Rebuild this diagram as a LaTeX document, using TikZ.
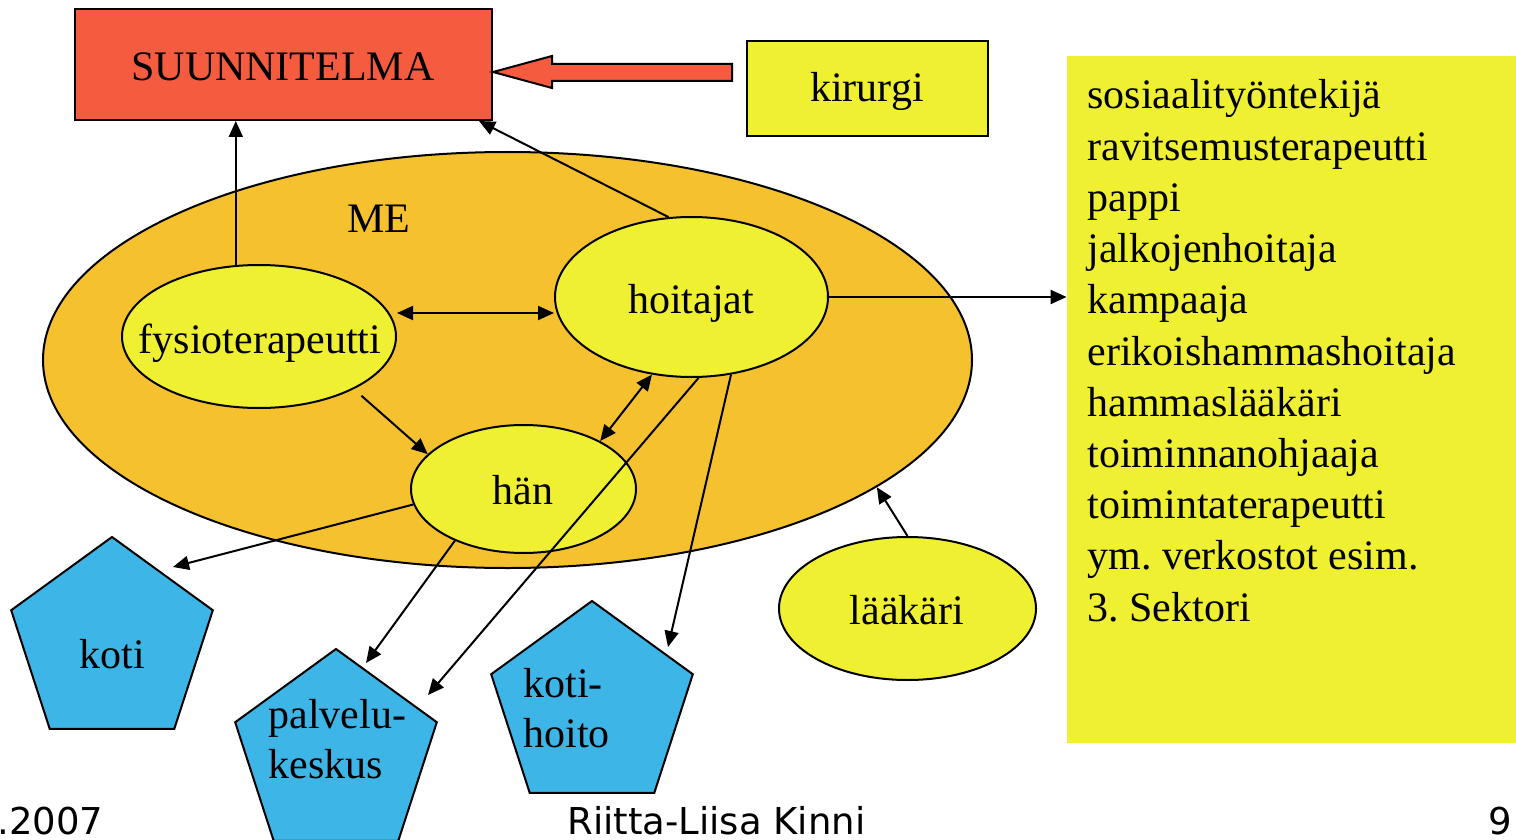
\documentclass[tikz,border=0pt]{standalone}
\usepackage{fontspec}
\setmainfont{Liberation Serif}
\newfontfamily\footfont{DejaVu Sans}
\usetikzlibrary{shapes.geometric,arrows.meta,calc}
\definecolor{cred}{RGB}{244,91,63}
\definecolor{corange}{RGB}{246,193,47}
\definecolor{cyellow}{RGB}{240,240,51}
\definecolor{cblue}{RGB}{61,181,230}
\frenchspacing
\begin{document}
\begin{tikzpicture}[x=0.5pt,y=-0.5pt,
  font=\fontsize{21}{25.65}\selectfont,
  lw/.style={line width=1pt},
  oval/.style={ellipse, draw, line width=1pt, fill=cyellow, inner sep=0pt},
  penta/.style={regular polygon, regular polygon sides=5, draw, line width=1pt, fill=cblue, minimum size=106pt, inner sep=0pt},
  con/.style={line width=1pt, -{Triangle[length=8pt,width=7pt]}},
  dcon/.style={line width=1pt, {Triangle[length=8pt,width=7pt]}-{Triangle[length=8pt,width=7pt]}},
  basetxt/.style={anchor=base, inner sep=0pt},
  foot/.style={font=\footfont\fontsize{18.5}{22}\selectfont, anchor=base west, inner sep=0pt},
]
\useasboundingbox (0,0) rectangle (1516,840);

% big ME ellipse
\node[oval, fill=corange, minimum width=464.5pt, minimum height=208pt] (me) at (507.5,360) {};
\node[basetxt] (melabel) at (379,232) {ME};

% plan and surgeon
\node[draw, lw, fill=cred, minimum width=208.5pt, minimum height=55.5pt, inner sep=0pt] (sunn) at (283.5,64.5) {};
\node[basetxt] (sunnt) at (283,81) {SUUNNITELMA};
\node[draw, lw, fill=cyellow, minimum width=120.5pt, minimum height=47.5pt, inner sep=0pt] (kir) at (867.5,88.5) {};
\node[basetxt] (kirt) at (867,102) {kirurgi};

% inner ellipses
\node[oval, minimum width=137pt, minimum height=71.5pt] (fys) at (259,336.5) {};
\node[oval, minimum width=136.5pt, minimum height=80pt] (hoi) at (691.5,297) {};
\node[oval, minimum width=112.5pt, minimum height=64pt] (han) at (523.5,489) {};
\node[oval, minimum width=128.5pt, minimum height=71.5pt] (laa) at (907.5,608.5) {};
\node[basetxt] (fyst) at (260,353) {fysioterapeutti};
\node[basetxt] (hoit) at (691,313) {hoitajat};
\node[basetxt] (hant) at (523,504) {hän};
\node[basetxt] (laat) at (907,624) {lääkäri};

% pentagons
\node[penta] (koti) at (112,643) {};
\node[penta] (palv) at (336,755) {};
\node[penta] (koho) at (592,707) {};
\node[basetxt] (kotit) at (112,668) {koti};
\node[anchor=base west, inner sep=0pt] (palv1) at (268,728) {palvelu-};
\node[anchor=base west, inner sep=0pt] (palv2) at (268,778) {keskus};
\node[anchor=base west, inner sep=0pt] (koho1) at (523,697) {koti-};
\node[anchor=base west, inner sep=0pt] (koho2) at (523,747) {hoito};

% list box
\node[fill=cyellow, minimum width=224.5pt, minimum height=343.5pt, inner sep=0pt] (box) at (1291.5,399.5) {};
\foreach \txt [count=\i] in {sosiaalityöntekijä,ravitsemusterapeutti,pappi,jalkojenhoitaja,kampaaja,erikoishammashoitaja,hammaslääkäri,toiminnanohjaaja,toimintaterapeutti,ym. verkostot esim.,3. Sektori}
  \node[anchor=base west, inner sep=0pt] (item\i) at (1087,{109+51.2*(\i-1)}) {\txt};

% block arrow kirurgi -> SUUNNITELMA
\draw[lw, fill=cred] (732,64) -- (552,64) -- (552,56) -- (sunn.east |- 0,72) -- (552,88) -- (552,81) -- (732,81) -- cycle;

% connectors
\coordinate (sunnT) at (479,121);
\coordinate (kotiT) at (173,567);
\coordinate (palvT1) at (366,663);
\coordinate (palvT2) at (428,695);
\coordinate (kohoT) at (668,647);
\draw[con] (fys.108) -- (fys.108 |- sunn.south);
\draw[con] (hoi.106) -- (sunnT);
\draw[dcon] (fys.east |- 0,313) -- (hoi.west |- 0,313);
\draw[con, shorten <=5pt] (fys.-29) -- (han.160);
\draw[dcon] (han.32) -- (hoi.243);
\draw[con] (hoi.east) -- (box.west |- hoi.east);
\draw[con] (han.188) -- (kotiT);
\draw[con] (han.217) -- (palvT1);
\draw[con] (hoi.-85) -- (palvT2);
\draw[con] (hoi.-63) -- (kohoT);
\draw[con] (laa.north) -- (me.-19.5);

% footer
\node[foot] (date) at (-3,834) {.2007};
\node[foot] (author) at (567,834) {Riitta-Liisa Kinni};
\node[foot] (page) at (1488,834) {9};
\end{tikzpicture}
\end{document}
